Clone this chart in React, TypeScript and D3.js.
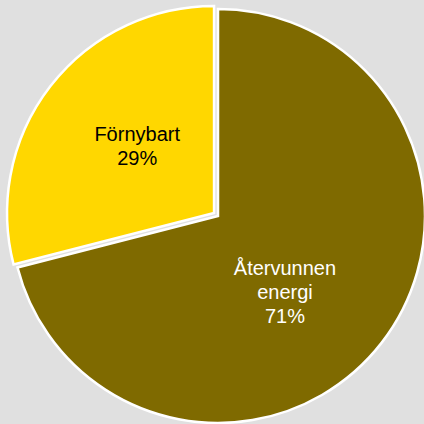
import React from "react";
import { pie, arc, PieArcDatum } from "d3";

const categories = ["Återvunnen energi", "Förnybart"];
const values = [71, 29];
const labelLines = [["Återvunnen", "energi", "71%"], ["Förnybart", "29%"]];
const colors = ["#7f6a00", "#ffd700"];
const textColors = ["#ffffff", "#000000"];
const explode = [0, 5];

export default function App() {
  const width = 424;
  const height = 424;
  const cx = 218;
  const cy = 216;
  const radius = 207;

  const pieGen = pie<number>().sort(null).value((d) => d);
  const arcs = pieGen(values);
  const arcGen = arc<PieArcDatum<number>>().innerRadius(0).outerRadius(radius);

  // label anchors tuned by eye
  const labelR = [0.44, 0.47];
  const labelDx = [-5, 0];
  const labelDy = [20, -7];

  return (
    <div style={{ position: "absolute", left: 0, top: 0 }}>
      <svg width={width} height={height} style={{ display: "block" }}>
        <rect width={width} height={height} fill="#e0e0e0" />
        <g transform={`translate(${cx},${cy})`}>
          {arcs.map((a, i) => {
            const mid = (a.startAngle + a.endAngle) / 2;
            const ox = Math.sin(mid) * explode[i];
            const oy = -Math.cos(mid) * explode[i];
            const lx = Math.sin(mid) * radius * labelR[i] + labelDx[i];
            const ly = -Math.cos(mid) * radius * labelR[i] + labelDy[i];
            const lines = labelLines[i];
            const lh = 24;
            return (
              <g key={categories[i]} transform={`translate(${ox},${oy})`}>
                <path d={arcGen(a) || ""} fill={colors[i]} stroke="#ffffff" strokeWidth={2.5} strokeLinejoin="miter" />
                <text
                  x={lx}
                  y={ly}
                  fill={textColors[i]}
                  textAnchor="middle"
                  fontFamily="'Liberation Sans', Arial, sans-serif"
                  fontSize={20}
                >
                  {lines.map((t, j) => (
                    <tspan key={j} x={lx} y={ly + (j - (lines.length - 1) / 2) * lh + 7}>
                      {t}
                    </tspan>
                  ))}
                </text>
              </g>
            );
          })}
        </g>
      </svg>
    </div>
  );
}
